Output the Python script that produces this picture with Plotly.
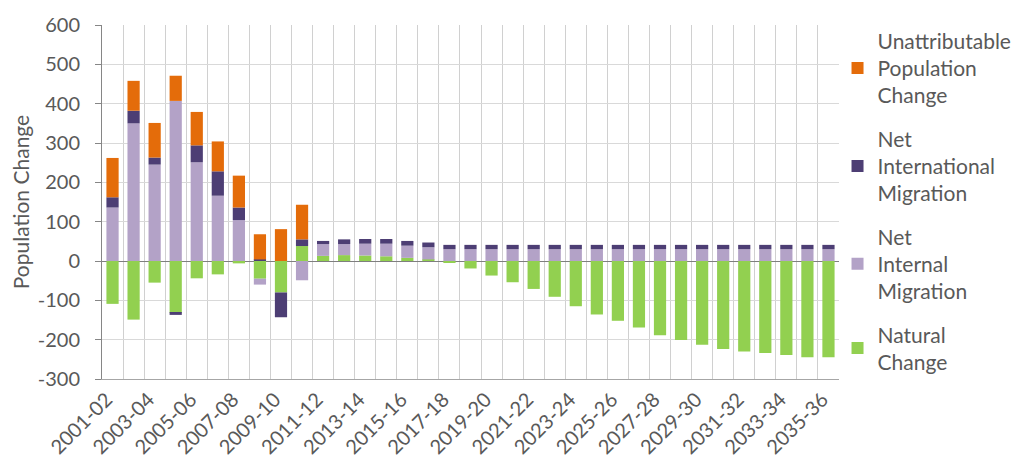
import plotly.graph_objects as go

years = ["2001-02", "2002-03", "2003-04", "2004-05", "2005-06", "2006-07", "2007-08",
         "2008-09", "2009-10", "2010-11", "2011-12", "2012-13", "2013-14", "2014-15",
         "2015-16", "2016-17", "2017-18", "2018-19", "2019-20", "2020-21", "2021-22",
         "2022-23", "2023-24", "2024-25", "2025-26", "2026-27", "2027-28", "2028-29",
         "2029-30", "2030-31", "2031-32", "2032-33", "2033-34", "2034-35", "2035-36"]

natural_change = [-109, -149, -55, -132, -44, -34, -6, -45, -80, 38,
                  13, 15, 14, 12, 8, 4, -3, -19, -37, -54, -71, -91, -115, -136,
                  -152, -169, -189, -201, -213, -224, -230, -234, -239, -245, -245]
net_internal = [136, 350, 245, 407, 251, 166, 104, -15, 0, -49,
                30, 28, 30, 32, 31, 31, 30, 30, 30, 30, 30, 30, 30, 30,
                30, 30, 30, 30, 30, 30, 30, 30, 30, 30, 30]
net_international = [26, 32, 18, -5, 43, 62, 32, 4, -63, 17,
                     8, 12, 12, 12, 12, 12, 11, 11, 11, 11, 11, 11, 11, 11,
                     11, 11, 11, 11, 11, 11, 11, 11, 11, 11, 11]
unattributable = [100, 76, 88, 64, 85, 76, 81, 64, 81, 88,
                  0, 0, 0, 0, 0, 0, 0, 0, 0, 0, 0, 0, 0, 0,
                  0, 0, 0, 0, 0, 0, 0, 0, 0, 0, 0]

x_tick_labels = [y if i % 2 == 0 else "" for i, y in enumerate(years)]
y_tick_values = [-300, -200, -100, 0, 100, 200, 300, 400, 500, 600]
y_tick_labels = ["-300", "-200", "-100", "0", "100", "200", "300", "400", "500", "600"]

FONT = "Lato"
GREY = "#595959"

series = [
    ("Natural<br>Change", natural_change, "#92D050", 4),
    ("Net<br>Internal<br>Migration", net_internal, "#B3A2C7", 3),
    ("Net<br>International<br>Migration", net_international, "#4D3E74", 2),
    ("Unattributable<br>Population<br>Change", unattributable, "#E46C0A", 1),
]

fig = go.Figure()
for i, (name, vals, color, rank) in enumerate(series):
    fig.add_trace(go.Bar(x=years, y=vals, name=name, marker_color=color,
                         marker_line_width=0, legendgroup=str(i), legendrank=rank))

fig.update_layout(
    barmode="relative",
    bargap=0.42,
    width=1021, height=457,
    margin=dict(l=102, r=182, t=25, b=78, autoexpand=False),
    paper_bgcolor="white", plot_bgcolor="white",
    font=dict(family=FONT, color=GREY, size=18),
    legend=dict(x=0.998, xanchor="left", yref="container", y=0.955, yanchor="top",
                maxheight=1.0,
                traceorder="grouped", tracegroupgap=13,
                font=dict(size=21, color=GREY, family=FONT),
                bgcolor="rgba(0,0,0,0)"),
    xaxis=dict(type="category", tickmode="array", tickvals=years, ticktext=x_tick_labels,
               tickangle=-45, tickson="boundaries", showgrid=True, gridcolor="#d0d0d0",
               showline=True, linecolor="#a6a6a6", linewidth=1, automargin=False,
               ticks="", ticklabelstandoff=0, ticklabelshift=-6,
               tickfont=dict(size=20, color=GREY, family=FONT)),
    yaxis=dict(range=[-300, 600], tickmode="array", tickvals=y_tick_values,
               ticktext=y_tick_labels, showgrid=True, gridcolor="#d9d9d9",
               zeroline=True, zerolinecolor="#7f7f7f", zerolinewidth=1,
               showline=True, linecolor="#868686", linewidth=1, automargin=False,
               ticks="outside", ticklen=6, tickcolor="#868686", ticklabelstandoff=11,
               tickfont=dict(size=20, color=GREY, family=FONT),
               title=dict(text="Population Change", standoff=2,
                          font=dict(size=21, color=GREY, family=FONT))),
)

fig.write_html("out.html", config={"displayModeBar": False},
               post_script="document.body.style.margin='0';")
